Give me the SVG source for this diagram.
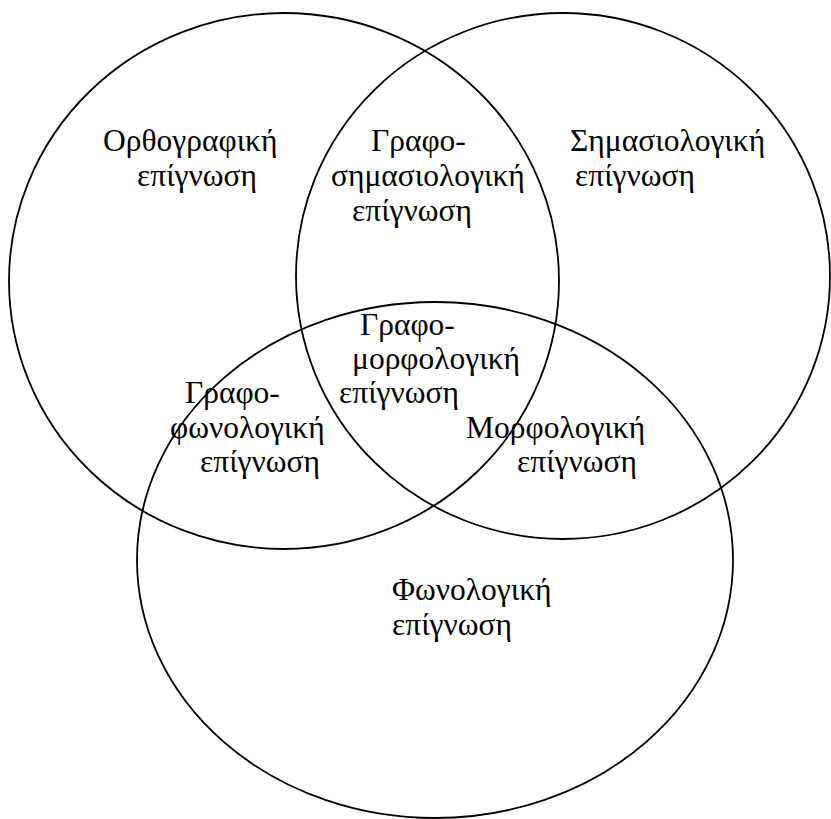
<svg xmlns="http://www.w3.org/2000/svg" width="831" height="819" viewBox="0 0 831 819">
<style>
.c{fill:none;stroke:#000;stroke-width:1.8}
.t{font-family:"Liberation Serif","Times New Roman",serif;font-size:31.5px;fill:#000}
</style>
<rect width="831" height="819" fill="#fff"/>
<g id="circles">
<g id="orthographic"><ellipse class="c" cx="284" cy="281" rx="275" ry="268"/></g>
<g id="semantic"><ellipse class="c" cx="563" cy="276" rx="267" ry="263"/></g>
<g id="phonological"><ellipse class="c" cx="435" cy="560" rx="298" ry="258"/></g>
</g>
<g id="labels" class="t">
<g id="l-ortho"><text x="103" y="151">Ορθογραφική</text><text x="137" y="186">επίγνωση</text></g>
<g id="l-grsem"><text x="371" y="151">Γραφο-</text><text x="331" y="186">σημασιολογική</text><text x="352" y="221">επίγνωση</text></g>
<g id="l-sem"><text x="570" y="151">Σημασιολογική</text><text x="575" y="186">επίγνωση</text></g>
<g id="l-grmorph"><text x="360" y="335">Γραφο-</text><text x="352" y="369">μορφολογική</text><text x="339" y="403">επίγνωση</text></g>
<g id="l-grphon"><text x="185" y="403">Γραφο-</text><text x="170" y="438">φωνολογική</text><text x="200" y="472">επίγνωση</text></g>
<g id="l-morph"><text x="466" y="438">Μορφολογική</text><text x="517" y="472">επίγνωση</text></g>
<g id="l-phon"><text x="392" y="600">Φωνολογική</text><text x="392" y="635">επίγνωση</text></g>
</g>
</svg>
